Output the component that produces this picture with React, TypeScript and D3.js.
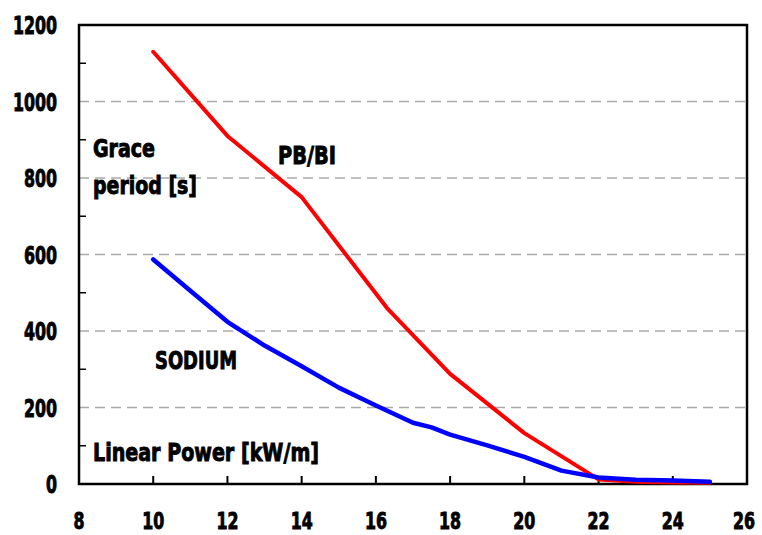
import * as d3 from "d3";

// Linear power [kW/m] vs grace period [s]
const pbbiPower = [10, 12, 14, 16.3, 18, 20, 22, 23, 24, 25];
const pbbiGrace = [1130, 910, 750, 460, 288, 133, 12, 6, 4, 3];

const sodiumPower = [10, 11, 12, 13, 14, 15, 16, 17, 17.5, 18, 19, 20, 21, 22, 23, 24, 25];
const sodiumGrace = [587, 505, 424, 362, 308, 252, 205, 160, 148, 129, 101, 71, 35, 17, 11, 9, 6];

const xTicks = [8, 10, 12, 14, 16, 18, 20, 22, 24, 26];
const yTicks = [0, 200, 400, 600, 800, 1000, 1200];
const yMinor = [100, 300, 500, 700, 900, 1100];

const W = 762;
const H = 535;
const FONT = "'Liberation Sans Narrow', 'DejaVu Sans Condensed', 'Roboto', sans-serif";

export default function App() {
  const x = d3.scaleLinear().domain([8, 26]).range([79, 747]);
  const y = d3.scaleLinear().domain([0, 1200]).range([484, 25]);

  const line = d3.line<[number, number]>()
    .x(d => x(d[0]))
    .y(d => y(d[1]));

  const red = pbbiPower.map((p, i) => [p, pbbiGrace[i]] as [number, number]);
  const blue = sodiumPower.map((p, i) => [p, sodiumGrace[i]] as [number, number]);

  const [x0, x1] = x.range();
  const [y0, y1] = y.range();

  // heavy condensed text, squeezed to the widths seen in the chart
  const txt = (s: string, tx: number, ty: number, w: number, size: number, anchor = "start", key?: string | number) => (
    <text
      key={key}
      x={tx}
      y={ty}
      textAnchor={anchor}
      fontFamily={FONT}
      fontWeight="bold"
      fontSize={size}
      textLength={w}
      lengthAdjust="spacingAndGlyphs"
      fill="#000"
      stroke="#000"
      strokeWidth={0.9}
    >
      {s}
    </text>
  );

  return (
    <svg width={W} height={H} style={{ position: "absolute", left: 0, top: 0 }}>
      <rect width={W} height={H} fill="#fff" />

      {/* dashed grid */}
      {yTicks.filter(t => t > 0 && t < 1200).map(t => (
        <line key={t} x1={x0} x2={x1} y1={y(t)} y2={y(t)}
          stroke="#aaa" strokeWidth={1.5} strokeDasharray="10,6" />
      ))}

      {/* minor y ticks */}
      {yMinor.map(t => (
        <line key={t} x1={x0} x2={x0 + 7} y1={y(t)} y2={y(t)} stroke="#000" strokeWidth={1.5} />
      ))}

      {/* x ticks pointing inward */}
      {xTicks.slice(1, -1).map(t => (
        <line key={t} x1={x(t)} x2={x(t)} y1={y0} y2={y0 - 8} stroke="#000" strokeWidth={2} />
      ))}

      {/* frame */}
      <rect x={x0} y={y1} width={x1 - x0} height={y0 - y1} fill="none" stroke="#000" strokeWidth={2.5} />

      <path d={line(red) ?? ""} fill="none" stroke="#ff0000" strokeWidth={4} strokeLinejoin="round" strokeLinecap="round" />
      <path d={line(blue) ?? ""} fill="none" stroke="#0000ff" strokeWidth={4.5} strokeLinejoin="round" strokeLinecap="round" />

      {/* y tick labels */}
      {yTicks.map(t => txt(String(t), 57, y(t) + 9, String(t).length * 11, 25, "end", t))}

      {/* x tick labels */}
      {xTicks.map(t => txt(String(t), t === 26 ? 744 : x(t), 529, String(t).length * 11, 23, "middle", t))}

      {txt("Grace", 93, 157, 62, 25)}
      {txt("period [s]", 93, 194, 104, 25)}
      {txt("PB/BI", 278, 164, 58, 25)}
      {txt("SODIUM", 155, 369, 82, 25)}
      {txt("Linear Power [kW/m]", 93, 461, 226, 25)}
    </svg>
  );
}
